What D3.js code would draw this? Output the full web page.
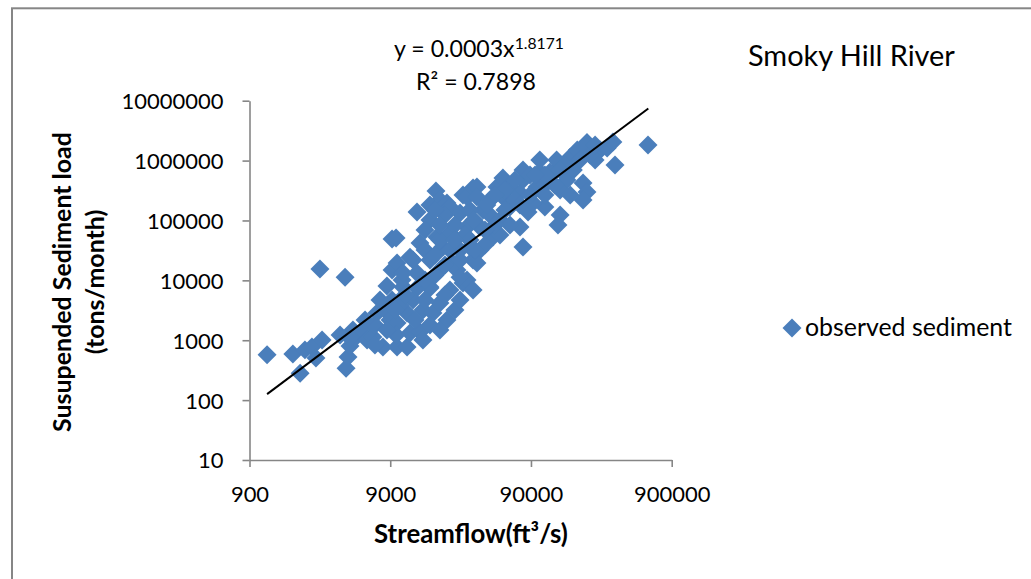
<!DOCTYPE html>
<html>
<head>
<meta charset="utf-8">
<script src="https://cdn.jsdelivr.net/npm/d3@7"></script>
<style>
  html, body { margin: 0; padding: 0; background: #fff; }
  svg { display: block; }
</style>
</head>
<body>
<svg id="chart" width="1031" height="579"></svg>
<script>
// ---------------- data ----------------
const chartTitle = "Smoky Hill River";
const seriesName = "observed sediment";
const xTitle = "Streamflow(ft\u00B3/s)";
const yTitleLines = ["Susupended Sediment load", "(tons/month)"];
const xTickValues = [900, 9000, 90000, 900000];
const yTickValues = [10, 100, 1000, 10000, 100000, 1000000, 10000000];
const eqMain = "y = 0.0003x";
const eqExponent = "1.8171";
const eqR2 = "R\u00B2 = 0.7898";

// streamflow (ft3/s) of each observed point
const flow = [
  1200, 1830, 2060, 2230, 2500, 2950, 2670, 4370, 4510, 4660,
  4890, 5060, 4660, 4300, 2850, 3960, 5760, 6160, 6780, 7240,
  8260, 7990, 8970, 10060, 10060, 11850, 12440, 14640, 15370, 11850,
  15370, 18100, 22760, 25940, 20300, 17240, 13950, 11100, 13060, 23900,
  29600, 8530, 7610, 9270, 10570, 7010, 5960, 10920, 9270, 9270,
  9900, 13950, 19020, 20300, 22760, 23900, 28200, 29600, 31600, 34900,
  17240, 14640, 19330, 21300, 25050, 13060, 10060, 11100, 12440, 17240,
  13950, 20300, 26800, 31600, 33200, 34900, 17240, 34900, 31600, 23900,
  20300, 28200, 25940, 22030, 15890, 37200, 37200, 46000, 51600, 56900,
  63800, 56900, 75200, 79000, 79000, 99400, 104000, 123000, 129000, 137000,
  162000, 171000, 180000, 192000, 211000, 225000, 279000, 313000, 344000, 356000,
  611000, 225000, 211000, 113000, 145000, 140000, 85800, 75200, 79000, 48300,
  39100, 39100, 63800, 93000, 54200, 41100, 37200, 28200, 46000, 33200,
  30600, 88600, 113000, 145000, 257000, 237000, 157000, 42400, 33200, 104000,
  88600, 69200, 113000, 58800, 49900, 43700, 35400, 54200, 69200, 63800,
  9900, 13500, 17240, 20300, 11470, 15890, 22030, 28200, 8530, 7010,
  9740, 15890, 18710, 22030, 28200, 18710, 15890, 23900, 25940, 20300,
  17240, 18710, 96200, 133000, 75200, 58800, 49900, 42400, 36000, 113000,
  145000, 201000, 257000, 171000
];
// suspended sediment load (tons/month) of each observed point
const sediment = [
  570, 590, 280, 690, 770, 1010, 505, 340, 524, 800,
  1480, 1090, 1090, 11300, 15500, 1220, 1480, 1010, 1130, 2850,
  3190, 770, 2170, 770, 1940, 770, 1320, 1370, 1010, 2850,
  3190, 2850, 2170, 3190, 4190, 7440, 7440, 7730, 4690, 6890,
  9020, 8040, 4690, 4690, 3870, 1790, 2170, 10100, 14900, 48900,
  51000, 138000, 310000, 219000, 196000, 168000, 133000, 266000, 246000, 348000,
  102000, 42000, 52900, 35900, 19500, 21800, 19500, 13300, 24400, 21800,
  13300, 14900, 14900, 10100, 35900, 21800, 7730, 6890, 77600, 61800,
  47100, 32100, 83800, 123000, 69200, 361000, 246000, 219000, 361000, 510000,
  361000, 246000, 287000, 472000, 694000, 361000, 643000, 643000, 618000, 1020000,
  472000, 1140000, 694000, 1500000, 421000, 2000000, 1500000, 1620000, 2040000, 841000,
  1820000, 298000, 219000, 168000, 123000, 83800, 138000, 77600, 35900, 52900,
  77600, 32100, 168000, 196000, 102000, 149000, 19500, 11300, 123000, 149000,
  57100, 266000, 390000, 322000, 1020000, 1240000, 841000, 38800, 47100, 1020000,
  572000, 472000, 572000, 322000, 266000, 181000, 102000, 57100, 219000, 83800,
  1220, 2170, 1790, 1480, 5680, 4690, 5680, 4690, 1480, 832,
  3190, 32100, 26400, 18000, 21800, 12200, 10100, 32100, 47100, 83800,
  181000, 149000, 572000, 390000, 181000, 149000, 83800, 69200, 32100, 266000,
  694000, 1020000, 1820000, 266000
];
// drawn power trendline end points (flow, load)
const trendFlow = [1200, 614000];
const trendLoad = [126, 7430000];

// ---------------- drawing ----------------
const svg = d3.select("#chart");
const FONT = "Lato, 'Open Sans', 'Liberation Sans', sans-serif";
const AXIS_GRAY = "#868686";
const BLUE = "#4a7ebb";

// outer chart border
svg.append("rect")
  .attr("x", 12).attr("y", 8.3)
  .attr("width", 1040).attr("height", 600)
  .attr("fill", "#fff")
  .attr("stroke", AXIS_GRAY).attr("stroke-width", 2);

const x = d3.scaleLog().domain([900, 900000]).range([249.5, 671.7]);
const y = d3.scaleLog().domain([10, 10000000]).range([460, 100.7]);

function fitWidth(sel, target) {
  const w = sel.node().getComputedTextLength();
  const fs = parseFloat(sel.attr("font-size"));
  const nfs = fs * target / w;
  sel.attr("font-size", nfs);
  return nfs;
}

// measure tick font size from widest label
const probe = svg.append("text").attr("font-family", FONT).attr("font-size", 22).text("10000000");
const tickFs = fitWidth(probe, 102);
probe.remove();

// axes
const xAxis = d3.axisBottom(x)
  .tickValues(xTickValues)
  .tickFormat(d3.format("d"))
  .tickSizeInner(7).tickSizeOuter(0).tickPadding(19);
const gx = svg.append("g").attr("transform", `translate(0,460)`).call(xAxis);

const yAxis = d3.axisLeft(y)
  .tickValues(yTickValues)
  .tickFormat(d3.format("d"))
  .tickSizeInner(7).tickSizeOuter(0).tickPadding(19);
const gy = svg.append("g").attr("transform", `translate(249.5,0)`).call(yAxis);

[gx, gy].forEach(g => {
  g.select(".domain").attr("stroke", AXIS_GRAY).attr("stroke-width", 1.6);
  g.selectAll(".tick line").attr("stroke", AXIS_GRAY).attr("stroke-width", 1.6);
  g.selectAll(".tick text")
    .attr("font-family", FONT).attr("font-size", tickFs)
    .attr("fill", "#000");
});
gy.selectAll(".tick text").attr("dy", "0.36em");
gx.selectAll(".tick text").attr("dy", "0.74em");

// points
const pts = flow.map((f, i) => ({ f, s: sediment[i] }));
const diamond = d3.symbol().type(d3.symbolSquare).size(180);
svg.append("g").selectAll("path")
  .data(pts).join("path")
  .attr("d", diamond)
  .attr("transform", d => `translate(${x(d.f)},${y(d.s)}) rotate(45)`)
  .attr("fill", BLUE);

// trend line
const trend = trendFlow.map((f, i) => ({ f, s: trendLoad[i] }));
svg.append("path")
  .datum(trend)
  .attr("d", d3.line().x(d => x(d.f)).y(d => y(d.s)))
  .attr("stroke", "#000").attr("stroke-width", 2).attr("fill", "none");

// equation
const eq1 = svg.append("text")
  .attr("x", 479).attr("y", 57)
  .attr("text-anchor", "middle")
  .attr("font-family", FONT).attr("font-size", 20).attr("fill", "#000");
eq1.append("tspan").text(eqMain);
const sup = eq1.append("tspan").attr("dy", -8).text(eqExponent);
const eq2 = svg.append("text")
  .attr("x", 476).attr("y", 90)
  .attr("text-anchor", "middle")
  .attr("font-family", FONT).attr("font-size", 20).attr("fill", "#000")
  .text(eqR2);
const eqFs = fitWidth(eq2, 120);
eq1.attr("font-size", eqFs);
sup.attr("font-size", eqFs * 0.68);

// title
const title = svg.append("text")
  .attr("x", 748).attr("y", 66)
  .attr("font-family", FONT).attr("font-size", 26).attr("fill", "#000")
  .text(chartTitle);
fitWidth(title, 207);

// x axis title
const xt = svg.append("text")
  .attr("x", 471).attr("y", 543)
  .attr("text-anchor", "middle")
  .attr("font-family", FONT).attr("font-weight", "bold").attr("font-size", 21).attr("fill", "#000")
  .text(xTitle);
fitWidth(xt, 194);

// y axis title (two lines, rotated)
const yt1 = svg.append("text")
  .attr("transform", "translate(71,282) rotate(-90)")
  .attr("text-anchor", "middle")
  .attr("font-family", FONT).attr("font-weight", "bold").attr("font-size", 21).attr("fill", "#000")
  .text(yTitleLines[0]);
const ytFs = fitWidth(yt1, 300);
svg.append("text")
  .attr("transform", "translate(104,282) rotate(-90)")
  .attr("text-anchor", "middle")
  .attr("font-family", FONT).attr("font-weight", "bold").attr("font-size", ytFs).attr("fill", "#000")
  .text(yTitleLines[1]);

// legend
svg.append("path")
  .attr("d", diamond)
  .attr("transform", "translate(792,328) rotate(45)")
  .attr("fill", BLUE);
const lt = svg.append("text")
  .attr("x", 805).attr("y", 336)
  .attr("font-family", FONT).attr("font-size", 22).attr("fill", "#000")
  .text(seriesName);
fitWidth(lt, 207);
</script>
</body>
</html>
